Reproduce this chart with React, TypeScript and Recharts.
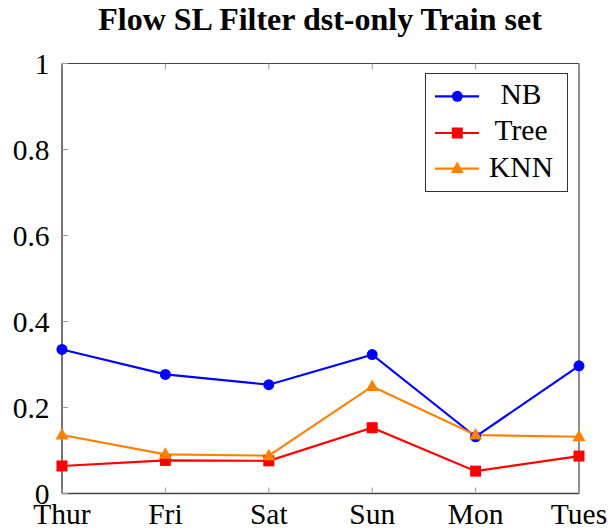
import { LineChart, Line, XAxis, YAxis, Legend } from "recharts";

const days = ["Thur", "Fri", "Sat", "Sun", "Mon", "Tues"];
const nbValues = [0.335, 0.277, 0.253, 0.323, 0.132, 0.297];
const treeValues = [0.064, 0.077, 0.076, 0.153, 0.052, 0.087];
const knnValues = [0.136, 0.091, 0.088, 0.249, 0.136, 0.132];
const yTicks = [0, 0.2, 0.4, 0.6, 0.8, 1];

const data = days.map((day, i) => ({
  day,
  NB: nbValues[i],
  Tree: treeValues[i],
  KNN: knnValues[i],
}));

const FONT = '"Liberation Serif", "Times New Roman", serif';
const TICK_COLOR = "#999";
const AXIS_COLOR = "#444";

const Circle = ({ cx, cy, fill }: any) => <circle cx={cx} cy={cy} r={5.5} fill={fill} />;
const Square = ({ cx, cy, fill }: any) => (
  <rect x={cx - 5.5} y={cy - 5.5} width={11} height={11} fill={fill} />
);
const Triangle = ({ cx, cy, fill }: any) => (
  <polygon points={`${cx},${cy - 7} ${cx - 6.5},${cy + 4.5} ${cx + 6.5},${cy + 4.5}`} fill={fill} />
);

const series = [
  { key: "NB", color: "#0000ff", Marker: Circle },
  { key: "Tree", color: "#ff0000", Marker: Square },
  { key: "KNN", color: "#ff8000", Marker: Triangle },
];

const BottomTick = ({ x, y, payload }: any) => (
  <g>
    <line x1={x} y1={y} x2={x} y2={y - 6} stroke={TICK_COLOR} />
    <text x={x} y={y + 30.5} textAnchor="middle" fontSize={29.5} fontFamily={FONT} fill="#000">
      {payload.value}
    </text>
  </g>
);
const TopTick = ({ x, y }: any) => <line x1={x} y1={y} x2={x} y2={y + 6} stroke={TICK_COLOR} />;
const LeftTick = ({ x, y, payload }: any) => (
  <g>
    <line x1={x} y1={y} x2={x + 6} y2={y} stroke={TICK_COLOR} />
    <text x={x - 12.5} y={y + 10} textAnchor="end" fontSize={29.5} fontFamily={FONT} fill="#000">
      {payload.value === 0 || payload.value === 1 ? payload.value : payload.value.toFixed(1)}
    </text>
  </g>
);
const RightTick = ({ x, y }: any) => <line x1={x} y1={y} x2={x - 6} y2={y} stroke={TICK_COLOR} />;

const LegendBox = () => {
  const rows = [
    { ...series[0], lineY: 23.3, textY: 30.6 },
    { ...series[1], lineY: 60, textY: 67.3 },
    { ...series[2], lineY: 95.6, textY: 104 },
  ];
  return (
    <svg width={143} height={119} style={{ display: "block" }}>
      <rect x={0.5} y={0.5} width={142} height={118} fill="#fff" stroke="#333" />
      {rows.map(({ key, color, Marker, lineY, textY }) => (
        <g key={key}>
          <line x1={10} y1={lineY} x2={54} y2={lineY} stroke={color} strokeWidth={2.2} />
          <Marker cx={32.3} cy={lineY} fill={color} />
          <text x={96} y={textY} textAnchor="middle" fontSize={29.5} fontFamily={FONT} fill="#000">
            {key}
          </text>
        </g>
      ))}
    </svg>
  );
};

export default function App() {
  return (
    <div style={{ position: "absolute", left: 0, top: 0, width: 611, height: 531, background: "#fff" }}>
      <svg width={611} height={40} style={{ position: "absolute", left: 0, top: 0 }}>
        <text x={320} y={30} textAnchor="middle" fontSize={32} fontWeight="bold" fontFamily={FONT} fill="#000">
          Flow SL Filter dst-only Train set
        </text>
      </svg>
      <div style={{ position: "absolute", left: 0, top: 0 }}>
        <LineChart width={611} height={531} data={data} margin={{ top: 62.5, right: 31, bottom: 36.5, left: 61 }}>
          <XAxis
            dataKey="day"
            height={1}
            tickSize={0}
            tickMargin={0}
            interval={0}
            tick={<BottomTick />}
            axisLine={{ stroke: AXIS_COLOR, strokeWidth: 1.5 }}
          />
          <XAxis
            xAxisId="top"
            orientation="top"
            dataKey="day"
            height={1}
            tickSize={0}
            tickMargin={0}
            interval={0}
            tick={<TopTick />}
            axisLine={{ stroke: AXIS_COLOR, strokeWidth: 1.2 }}
          />
          <YAxis
            domain={[0, 1]}
            ticks={yTicks}
            width={1}
            tickSize={0}
            tickMargin={0}
            interval={0}
            tick={<LeftTick />}
            axisLine={{ stroke: AXIS_COLOR, strokeWidth: 1.5 }}
          />
          <YAxis
            yAxisId="right"
            orientation="right"
            domain={[0, 1]}
            ticks={yTicks}
            width={1}
            tickSize={0}
            tickMargin={0}
            interval={0}
            tick={<RightTick />}
            axisLine={{ stroke: AXIS_COLOR, strokeWidth: 1.2 }}
          />
          <Legend
            layout="horizontal"
            verticalAlign="middle"
            align="center"
            wrapperStyle={{ position: "absolute", left: 425, top: 72.7, width: 143, height: 119 }}
            content={() => <LegendBox />}
          />
          {series.map(({ key, color, Marker }) => (
            <Line
              key={key}
              type="linear"
              dataKey={key}
              stroke={color}
              strokeWidth={2.2}
              isAnimationActive={false}
              dot={(p: any) => <Marker key={`${key}-${p.index}`} cx={p.cx} cy={p.cy} fill={color} />}
              activeDot={false}
            />
          ))}
        </LineChart>
      </div>
    </div>
  );
}
